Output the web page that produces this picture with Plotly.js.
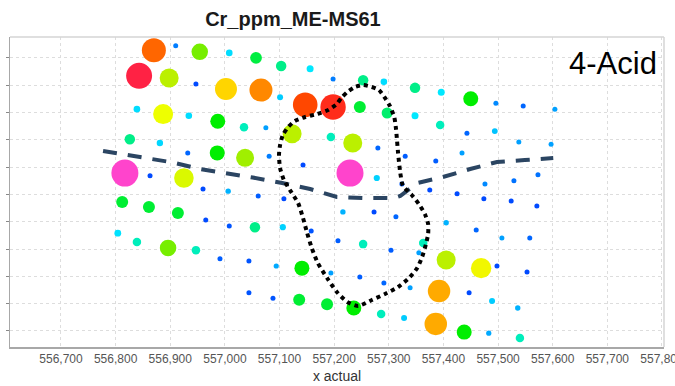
<!DOCTYPE html>
<html>
<head>
<meta charset="utf-8">
<script src="https://cdn.plot.ly/plotly-3.0.1.min.js"></script>
<style>
  html, body { margin: 0; padding: 0; background: #ffffff; }
  #chart { width: 675px; height: 386px; }
</style>
</head>
<body>
<div id="chart"></div>
<script>
// Sample locations (easting, local northing in metres) and Cr ppm (ME-MS61, 4-acid digest)
const eastings = [
  556870, 556910, 556954, 557008, 557057, 557103, 557156, 557198, 557253, 557291, 557348, 557396, 557450, 557496, 557546, 557604,
  556843, 556898, 556947, 557002, 557066, 557101, 557147, 557198, 557247, 557297, 557348, 557394, 557443, 557494, 557538, 557597,
  556839, 556887, 556934, 556987, 557035, 557075, 557123, 557194, 557234, 557280, 557330, 557386, 557434,
  556826, 556881, 556932, 556986, 557037, 557081, 557143, 557229, 557278, 557324, 557375, 557425, 557474, 557524, 557571, 557573, 557529, 557476,
  556817, 556863, 556925, 556960, 557006, 557061, 557108, 557216, 557273, 557313, 557405, 557460, 557507, 557558,
  556812, 556861, 556914, 556965, 557008, 557055, 557106, 557158, 557207, 557253, 557304, 557363, 557355, 557405, 557469, 557498, 557553,
  556804, 556839, 556896, 556947, 556991, 557044, 557094, 557141, 557194, 557247, 557291, 557339, 557392, 557447, 557489, 557536,
  557044, 557088, 557136, 557187, 557236, 557286, 557328, 557386, 557438, 557483, 557540
];
const northings = [
  514, 522, 511, 509, 500, 485, 480, 461, 459, 456, 445, 437, 425, 417, 412, 406,
  467, 463, 452, 443, 441, 428, 414, 410, 410, 399, 394, 377, 362, 366, 346, 342,
  406, 397, 394, 384, 373, 372, 361, 355, 344, 335, 320, 311, 326,
  351, 344, 326, 326, 317, 320, 304, 289, 280, 269, 258, 251, 242, 238, 229, 286, 275, 269,
  289, 284, 280, 260, 256, 247, 242, 218, 218, 209, 198, 185, 170, 170,
  236, 227, 216, 203, 192, 190, 190, 183, 165, 159, 148, 161, 143, 130, 115, 119, 108,
  179, 163, 152, 148, 132, 128, 119, 115, 106, 99, 88, 79, 73, 70, 55, 42,
  70, 60, 57, 49, 42, 31, 24, 13, -2, -4, -13
];
const crPpm = [
  85, 17, 55, 28, 45, 40, 30, 17, 40, 28, 40, 30, 50, 18, 15, 20,
  95, 60, 12, 70, 80, 25, 88, 92, 46, 42, 30, 35, 15, 24, 20, 20,
  28, 65, 28, 50, 35, 20, 60, 35, 60, 15, 14, 14, 20,
  40, 27, 15, 50, 58, 17, 12, 100, 26, 14, 12, 12, 12, 12, 12, 16, 16, 18,
  100, 12, 63, 12, 22, 14, 12, 22, 12, 15, 22, 15, 20, 15,
  46, 46, 46, 12, 13, 40, 26, 13, 14, 35, 14, 35, 20, 60, 66, 12, 12,
  29, 35, 55, 35, 14, 13, 21, 50, 20, 14, 15, 20, 75, 12, 25, 22,
  13, 13, 46, 46, 50, 35, 25, 75, 50, 21, 35
];

// Interpreted contact traces
const contactE = [556777, 556854, 556905, 556954, 557004, 557051, 557105, 557156, 557205, 557256, 557310, 557321, 557352, 557399, 557449, 557498, 557549, 557601];
const contactN = [329.5, 317.6, 308.4, 296.5, 289.2, 280.9, 270.9, 259.9, 245.3, 243.4, 243.4, 247.1, 270.9, 281.9, 296.5, 309.3, 313.0, 316.6];

const zoneE = [557253, 557269, 557282, 557293, 557302, 557310, 557313, 557315, 557317, 557321, 557326, 557342, 557355, 557366, 557372, 557372,
  557368, 557361, 557352, 557337, 557317, 557293, 557269, 557244, 557224, 557205, 557187, 557170, 557159, 557150, 557143, 557134,
  557119, 557108, 557101, 557099, 557101, 557106, 557116, 557128, 557147, 557169, 557189, 557205, 557213, 557224, 557238, 557253];
const zoneN = [450.3, 446.6, 441.1, 426.5, 411.8, 391.7, 371.6, 349.6, 325.8, 289.2, 265.4, 248.9, 232.4, 214.1, 195.8, 177.5,
  159.2, 135.4, 115.3, 97.0, 80.5, 67.7, 56.7, 45.8, 53.1, 71.4, 97.0, 124.5, 151.9, 181.2, 206.8, 234.3,
  258.1, 276.4, 298.3, 322.1, 340.4, 358.7, 373.4, 384.4, 391.7, 397.2, 404.5, 415.5, 426.5, 437.4, 446.6, 450.3];

const xTicks = [556700, 556800, 556900, 557000, 557100, 557200, 557300, 557400, 557500, 557600, 557700, 557800];

// Symbol size scale (ppm -> marker diameter)
const sizeStops = [[0, 5], [20, 5], [25, 6], [30, 7], [35, 8.5], [40, 10.5], [46, 12], [50, 15], [55, 16.5], [60, 19], [65, 20], [70, 22], [80, 23], [90, 25], [100, 27]];
function sizeFor(v) {
  for (let i = 1; i < sizeStops.length; i++) {
    const [a, sa] = sizeStops[i - 1], [b, sb] = sizeStops[i];
    if (v <= b) return sa + (sb - sa) * (v - a) / (b - a);
  }
  return sizeStops[sizeStops.length - 1][1];
}

const cMin = 10, cMax = 100;
const rainbow = [
  [10, '#0038ff'], [15, '#0066ff'], [20, '#00a0ff'], [25, '#00ccff'], [30, '#00e8ff'],
  [35, '#00eebb'], [40, '#00ee88'], [46, '#00ee33'], [50, '#00ee00'], [55, '#77ee00'],
  [60, '#bbf000'], [65, '#eeff00'], [70, '#ffd500'], [75, '#ffaa00'], [80, '#ff8800'],
  [85, '#ff6600'], [90, '#ff3300'], [95, '#ff2244'], [100, '#ff44cc']
].map(([v, c]) => [(v - cMin) / (cMax - cMin), c]);

// Plot the larger values last so they sit on top
const order = crPpm.map((v, i) => i).sort((a, b) => crPpm[a] - crPpm[b]);

const samples = {
  type: 'scatter', mode: 'markers',
  x: order.map(i => eastings[i]),
  y: order.map(i => northings[i]),
  marker: {
    size: order.map(i => sizeFor(crPpm[i])),
    color: order.map(i => crPpm[i]),
    colorscale: rainbow, cmin: cMin, cmax: cMax,
    line: { width: 0 }, opacity: 1
  },
  showlegend: false, hoverinfo: 'skip'
};

const contact = {
  type: 'scatter', mode: 'lines', x: contactE, y: contactN,
  line: { color: '#2b4562', width: 4, dash: '14px,11px' },
  showlegend: false, hoverinfo: 'skip'
};

const zone = {
  type: 'scatter', mode: 'lines', x: zoneE, y: zoneN,
  line: { color: '#000000', width: 4, dash: 'dot', shape: 'spline', smoothing: 0.6 },
  showlegend: false, hoverinfo: 'skip'
};

const gridStyle = { showgrid: true, gridcolor: '#dddddd', gridwidth: 1, griddash: '3px,3px', zeroline: false };

const layout = {
  width: 675, height: 386,
  margin: { l: 10, r: 11, t: 37, b: 39 },
  paper_bgcolor: '#ffffff', plot_bgcolor: '#ffffff',
  font: { family: 'Liberation Sans, Arial, sans-serif', color: '#444' },
  title: {
    text: 'Cr_ppm_ME-MS61',
    font: { family: 'Liberation Sans, Arial, sans-serif', size: 20, color: '#1a1a1a', weight: 'bold' },
    x: 0.434, xref: 'container', xanchor: 'center',
    y: 0.95, yref: 'container', yanchor: 'middle'
  },
  xaxis: Object.assign({
    range: [556606.7, 557803.7],
    tickvals: xTicks, tickformat: ',d',
    tickfont: { size: 12, color: '#555' },
    ticklabeloverflow: 'allow',
    ticks: '', showline: true, linecolor: '#a8a8a8', linewidth: 1.5, mirror: false,
    title: { text: 'x actual', font: { size: 14, color: '#333' }, standoff: 6 }
  }, gridStyle),
  yaxis: Object.assign({
    range: [-29.3, 538.1],
    dtick: 50, tick0: 0,
    showticklabels: false,
    ticks: 'outside', ticklen: 3, tickcolor: '#888', tickwidth: 1,
    showline: true, linecolor: '#a8a8a8', linewidth: 1.5, mirror: false
  }, gridStyle),
  shapes: [
    { type: 'line', xref: 'paper', yref: 'paper', x0: 0, x1: 1, y0: 1, y1: 1, line: { color: '#d4d4d4', width: 1.5 } },
    { type: 'line', xref: 'paper', yref: 'paper', x0: 1, x1: 1, y0: 0, y1: 1, line: { color: '#d4d4d4', width: 1.5 } }
  ],
  annotations: [{
    text: '4-Acid', xref: 'paper', yref: 'paper', x: 0.993, y: 0.915,
    xanchor: 'right', yanchor: 'middle', showarrow: false,
    font: { family: 'Liberation Sans, Arial, sans-serif', size: 31, color: '#000' }
  }]
};

Plotly.newPlot('chart', [samples, contact, zone], layout, { staticPlot: true, displayModeBar: false });
</script>
</body>
</html>
